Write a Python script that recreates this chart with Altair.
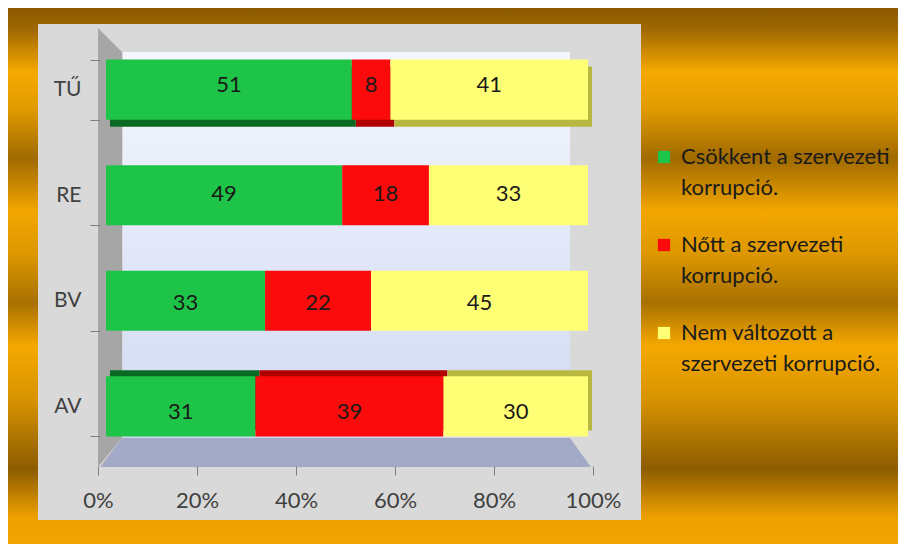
import altair as alt
import pandas as pd

# ---------------- data ----------------
categories = ["TŰ", "RE", "BV", "AV"]
series = [
    "Csökkent a szervezeti korrupció.",
    "Nőtt a szervezeti korrupció.",
    "Nem változott  a szervezeti korrupció.",
]
legend_lines = [
    ["Csökkent a szervezeti", "korrupció."],
    ["Nőtt a szervezeti", "korrupció."],
    ["Nem változott  a", "szervezeti korrupció."],
]
decreased = [51, 49, 33, 31]
increased = [8, 18, 22, 39]
unchanged = [41, 33, 45, 30]
tick_values = [0, 20, 40, 60, 80, 100]
tick_labels = ["0%", "20%", "40%", "60%", "80%", "100%"]

# ---------------- styles ----------------
colors = ["#1ec447", "#fb0b0b", "#ffff75"]
shade_colors = ["#0a6a24", "#b00000", "#b8b840"]
FONT = "Lato"
W, H = 493, 436

rows = []
for i, c in enumerate(categories):
    start = 0
    for j, vals in enumerate([decreased, increased, unchanged]):
        v = vals[i]
        rows.append(dict(cat=c, series=series[j], order=j, value=v,
                         x0=start, x1=start + v, mid=start + v / 2))
        start += v
df = pd.DataFrame(rows)

one = pd.DataFrame({"a": [0]})

def lin_grad(stops, vertical=True):
    return {
        "gradient": "linear",
        "x1": 0, "y1": 0,
        "x2": 0 if vertical else 1, "y2": 1 if vertical else 0,
        "stops": [{"offset": o, "color": c} for o, c in stops],
    }

gold = lin_grad([
    (0.00, "#8a5800"), (0.04, "#a06800"), (0.12, "#f6a900"), (0.19, "#e09a00"),
    (0.28, "#a06a00"), (0.38, "#f3a600"), (0.46, "#dc9700"), (0.55, "#a87000"),
    (0.63, "#f5a800"), (0.73, "#d89300"), (0.86, "#8c5c00"), (0.95, "#eea000"),
    (1.00, "#f2a400"),
])

bg = alt.Chart(one).mark_rect(fill=gold).encode(
    x=alt.value(-92), x2=alt.value(W + 305), y=alt.value(-22), y2=alt.value(H + 78))
panel = alt.Chart(one).mark_rect(fill="#d9d9d9").encode(
    x=alt.value(-62), x2=alt.value(541), y=alt.value(-6), y2=alt.value(490))
backwall = alt.Chart(one).mark_rect(
    fill=lin_grad([(0, "#f4f7fd"), (0.5, "#e2e8f8"), (1, "#d2daf2")])).encode(
    x=alt.value(23), x2=alt.value(470), y=alt.value(22), y2=alt.value(408))

idx = alt.Scale(domain=[0, W], range=[0, W], nice=False, zero=False)
idy = alt.Scale(domain=[0, H], range=[0, H], nice=False, zero=False)

wall_df = pd.DataFrame({"px": [-2, 22], "top": [-2, 22], "bot": [437, 408]})
floor_df = pd.DataFrame({"px": [0, 22, 470, 491], "top": [437, 408, 408, 437],
                         "bot": [437, 437, 437, 437]})
wall = alt.Chart(wall_df).mark_area(color="#a6a6a6").encode(
    x=alt.X("px:Q", scale=idx, axis=None),
    y=alt.Y("top:Q", scale=idy, axis=None),
    y2="bot:Q")
floor = alt.Chart(floor_df).mark_area(color="#a3aac7").encode(
    x=alt.X("px:Q", scale=idx, axis=None),
    y=alt.Y("top:Q", scale=idy, axis=None),
    y2="bot:Q")

xbar = alt.Scale(domain=[0, 100], range=[6, 488], nice=False, zero=False)
ybar = alt.Scale(domain=categories, paddingInner=0.43, paddingOuter=0.28)

label_expr = " : ".join(
    f"datum.label == '{s}' ? {lines!r}" for s, lines in zip(series, legend_lines)
) + " : datum.label"

color = alt.Color(
    "series:N",
    scale=alt.Scale(domain=series, range=colors),
    legend=alt.Legend(
        orient="none", legendX=553, legendY=116, title=None, zindex=2,
        symbolType="square", symbolSize=150, symbolStrokeWidth=0,
        labelFont=FONT, labelFontSize=22, labelColor="#1a1a1a",
        labelExpr=label_expr, labelLimit=400, rowPadding=35, labelOffset=6,
        direction="vertical",
    ),
)

shade_expr = " : ".join(
    f"datum.series == '{s}' ? '{c}'" for s, c in zip(series, shade_colors)) + " : 'black'"

def shade(cat, dy):
    return alt.Chart(df).transform_filter(alt.datum.cat == cat).transform_calculate(
        shade=shade_expr).mark_bar(
        xOffset=4, x2Offset=4, yOffset=dy, y2Offset=dy).encode(
        x=alt.X("x0:Q", scale=xbar, axis=None), x2="x1:Q",
        y=alt.Y("cat:N", scale=ybar, axis=None),
        fill=alt.Fill("shade:N", scale=None))

top_shade = shade("TŰ", 7)
low_shade = shade("AV", -6)

bars = alt.Chart(df).mark_bar().encode(
    x=alt.X("x0:Q", scale=xbar, axis=None), x2="x1:Q",
    y=alt.Y("cat:N", scale=ybar, title=None, axis=alt.Axis(
        domain=False, tickBand="extent", tickSize=10, tickColor="#808080", zindex=1,
        labelPadding=9, labelFont=FONT, labelFontSize=21, labelColor="#404040")),
    color=color,
)

texts = alt.Chart(df).mark_text(font=FONT, fontSize=22, color="#1a1a1a").encode(
    x=alt.X("mid:Q", scale=xbar, axis=None),
    y=alt.Y("cat:N", scale=ybar, axis=None),
    text="value:Q",
)

label_map = " : ".join(f"datum.value == {v} ? '{t}'" for v, t in zip(tick_values, tick_labels)) + " : ''"
xaxis = alt.Chart(pd.DataFrame({"v": tick_values})).mark_tick(opacity=0).encode(
    x=alt.X("v:Q", title=None, scale=alt.Scale(domain=[0, 100], range=[-2, W], nice=False),
            axis=alt.Axis(values=tick_values, labelExpr=label_map, domain=False, grid=False,
                          labelFlush=False, labelOverlap=False,
                          tickSize=9, tickColor="#808080", labelPadding=15, zindex=1,
                          labelFont=FONT, labelFontSize=22, labelColor="#404040")),
)

chart = alt.layer(bg, panel, backwall, wall, floor, xaxis, top_shade, low_shade, bars, texts).resolve_scale(
    x="independent", y="independent"
).properties(
    width=W, height=H,
    padding={"left": 92, "top": 22, "right": 305, "bottom": 78},
    autosize=alt.AutoSizeParams(type="none"),
).configure(
    background="#e9a000",
    style={"guide-label": {"lineHeight": 31}},
).configure_view(stroke=None)

chart.save("out.html", embed_options={"renderer": "svg", "actions": False})
